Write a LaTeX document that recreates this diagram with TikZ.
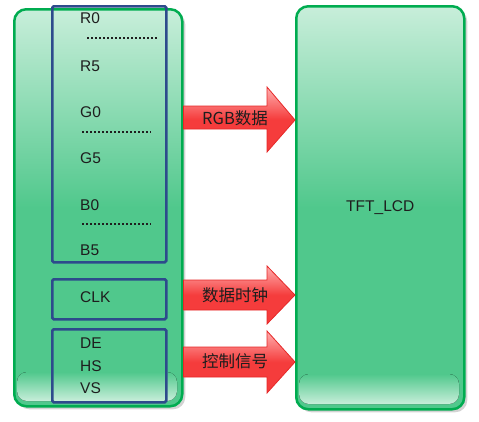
\documentclass[tikz,border=0pt]{standalone}
\usepackage{fontspec}
\setmainfont{Liberation Sans}
\newfontfamily\cjk{Noto Sans CJK SC}
\usetikzlibrary{shadows,calc}
\definecolor{gborder}{RGB}{0,172,80}
\definecolor{gmid}{RGB}{80,200,140}
\definecolor{glight}{RGB}{200,238,218}
\definecolor{bborder}{RGB}{45,75,140}
\definecolor{rfill}{RGB}{245,60,60}
\definecolor{rlight}{RGB}{255,175,175}
\definecolor{rborder}{RGB}{230,40,40}
\definecolor{txt}{RGB}{30,30,30}
\tikzset{
  gbox/.style={draw=gborder, line width=2.5pt, rounded corners=12pt, top color=glight, bottom color=gmid, middle color=gmid, drop shadow={shadow xshift=3pt, shadow yshift=-3pt, opacity=0.35}},
  gloss/.style={rounded corners=10pt, top color=gmid, bottom color=glight, draw=none},
  bbox/.style={draw=bborder, line width=2.5pt, rounded corners=1.5pt},
  lbl/.style={font=\fontsize{15.5}{17}\selectfont, text=txt, anchor=west, inner sep=0pt},
  dots/.style={line width=1.8pt, dash pattern=on 1.8pt off 2.2pt, txt},
  rarrow/.style={draw=rborder, line width=0.8pt, top color=rlight, bottom color=rfill, middle color=rfill},
  atext/.style={font=\cjk\fontsize{16.5}{18}\selectfont, text=txt, inner sep=0pt}
}
\begin{document}
\begin{tikzpicture}[x=1pt,y=-1pt]
\useasboundingbox (0,0) rectangle (479,421);
% green blocks
\node[gbox, minimum width=168pt, minimum height=397pt, anchor=north west, inner sep=0pt] (src) at (13,8) {};
\node[gbox, minimum width=168pt, minimum height=403pt, anchor=north west, inner sep=0pt] (lcd) at (295,5) {};
\fill[gloss] (17,372) rectangle (177,401);
\fill[gloss] (299,374) rectangle (459,404);
\node[font=\fontsize{15.5}{17}\selectfont, text=txt] (lcdt) at (lcd.center) {TFT\_LCD};
% blue boxes
\node[bbox, minimum width=114pt, minimum height=256pt, anchor=north west, inner sep=0pt] (rgbbox) at (51,5) {};
\node[bbox, minimum width=114pt, minimum height=40pt, anchor=north west, inner sep=0pt] (clkbox) at (51,278) {};
\node[bbox, minimum width=114pt, minimum height=73pt, anchor=north west, inner sep=0pt] (ctlbox) at (51,328) {};
% labels
\node[lbl] (r0) at (80,18) {R0};
\node[lbl] (r5) at (80,66) {R5};
\node[lbl] (g0) at (80,112) {G0};
\node[lbl] (g5) at (80,158) {G5};
\node[lbl] (b0) at (80,205) {B0};
\node[lbl] (b5) at (80,250) {B5};
\node[lbl] (clk) at (80,297) {CLK};
\node[lbl] (de) at (80,343) {DE};
\node[lbl] (hs) at (80,366) {HS};
\node[lbl] (vs) at (80,388) {VS};
\coordinate (d1a) at (87,38); \coordinate (d1b) at (157,38);
\coordinate (d2a) at (82,132); \coordinate (d2b) at (151,132);
\coordinate (d3a) at (82,224); \coordinate (d3b) at (151,224);
\draw[dots] (d1a) -- (d1b);
\draw[dots] (d2a) -- (d2b);
\draw[dots] (d3a) -- (d3b);
% arrows
\draw[rarrow] (src.east |- 0,106) -- (267,106) -- (267,87) -- (lcd.west |- 0,120) -- (267,152) -- (267,129) -- (src.east |- 0,129) -- cycle;
\draw[rarrow] (src.east |- 0,280) -- (267,280) -- (267,266) -- (lcd.west |- 0,295) -- (267,324) -- (267,310) -- (src.east |- 0,310) -- cycle;
\draw[rarrow] (src.east |- 0,347) -- (267,347) -- (267,331) -- (lcd.west |- 0,362) -- (267,393) -- (267,377) -- (src.east |- 0,377) -- cycle;
\node[atext] (a1) at (235,118) {RGB数据};
\node[atext] (a2) at (235,295) {数据时钟};
\node[atext] (a3) at (235,361) {控制信号};
\end{tikzpicture}
\end{document}
